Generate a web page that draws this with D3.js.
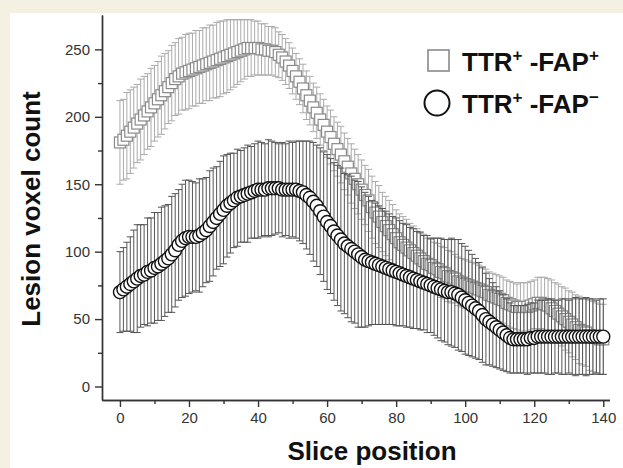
<!DOCTYPE html>
<meta charset="utf-8">
<style>
body {
  margin: 0;
  background: #f4f0e2;
  font-family: "Liberation Sans", Arial, Helvetica, sans-serif;
}
.axis path, .axis line {
  stroke: #333;
  stroke-width: 1.4;
}
.axis text {
  font-size: 15px;
  fill: #333;
}
.label {
  font-size: 26px;
  font-weight: bold;
  fill: #111;
}
.legend text {
  font-size: 26px;
  font-weight: bold;
  fill: #111;
}
</style>
<body>
<script src="https://cdn.jsdelivr.net/npm/d3@7"></script>
<script>

var width = 623,
    height = 468;

// slice positions 0..140
var slices = d3.range(0, 141);

// TTR+ -FAP+ (grey squares), mean and SD per slice
var fapPosMean = [
  181,183,186,189,192,195,198,201,204,207,210,
  213,216,219,222,225,228,230,232,233,234,
  235,236,237,238,239,240,241,242,243,244,
  245,246,247,248,249,250,251,251,251,251,
  250,250,249,249,248,246,244,241,238,234,
  230,226,221,216,212,207,203,198,194,189,
  185,180,176,172,167,163,158,154,150,146,
  142,138,133,129,126,122,119,116,113,110,
  107,105,103,101,99,97,95,93,91,90,
  88,87,85,84,82,81,80,78,77,76,
  75,74,73,72,71,70,68,67,66,65,
  64,62,61,60,59,59,59,59,60,61,
  62,62,61,60,58,56,54,52,50,48,
  46,44,42,41,40,38,37,36,35,35
];
var fapPosSd = [
  31,30,32,31,30,29,30,29,28,29,28,
  28,29,28,27,28,27,28,27,28,28,
  27,28,27,28,27,28,27,28,28,27,
  27,26,25,24,23,22,21,21,20,20,
  19,19,18,18,18,17,17,17,17,17,
  17,17,18,18,18,18,19,19,19,19,
  20,20,20,21,21,21,22,22,22,22,
  22,23,23,23,23,22,22,22,22,21,
  21,21,21,20,20,20,20,20,19,19,
  19,19,19,19,19,19,18,18,18,18,
  18,18,18,18,18,17,17,17,17,17,
  17,17,17,17,17,18,18,18,18,18,
  19,19,20,20,21,21,22,22,23,23,
  24,24,25,25,25,26,26,26,26,26
];

// TTR+ -FAP- (black circles), mean and SD per slice
var fapNegMean = [
  70,72,74,76,78,80,82,83,85,86,88,
  89,91,93,95,98,101,105,108,110,111,
  111,111,112,114,116,119,122,125,128,131,
  134,136,138,140,141,142,143,144,145,146,
  146,146,147,147,147,147,146,146,146,146,
  146,145,144,142,140,137,134,130,126,122,
  119,115,112,109,106,104,102,100,98,96,
  94,93,92,91,90,89,88,87,86,85,
  84,83,82,81,80,79,78,77,76,75,
  74,73,72,71,70,70,69,68,66,64,
  62,60,58,56,53,50,48,46,44,42,
  40,38,36,35,35,35,35,35,36,36,
  37,37,37,37,37,37,37,37,37,37,
  37,37,37,37,37,37,37,37,37,37
];
var fapNegSd = [
  30,31,33,35,38,40,38,37,40,39,41,
  40,42,41,40,43,42,41,42,43,42,
  41,40,42,40,39,41,40,38,39,40,
  38,37,35,36,34,35,36,34,35,36,
  35,34,36,35,34,33,35,34,36,35,
  36,37,38,40,42,44,45,47,48,50,
  50,51,52,53,52,53,54,53,54,52,
  50,48,46,45,44,43,42,41,40,40,
  39,38,38,37,37,36,36,35,36,35,
  36,37,38,38,39,40,40,41,40,40,
  39,38,37,36,35,34,32,31,30,29,
  28,27,26,25,25,25,25,26,26,26,
  27,27,27,28,28,27,27,28,28,27,
  28,29,28,28,29,28,28,27,28,28
];

var xMajor = [0, 20, 40, 60, 80, 100, 120, 140],
    xMinor = [10, 30, 50, 70, 90, 110, 130],
    yMajor = [0, 50, 100, 150, 200, 250],
    yMinor = [25, 75, 125, 175, 225];

var svg = d3.select("body").append("svg")
    .attr("width", width)
    .attr("height", height);

// white panel
svg.append("rect")
    .attr("x", 10)
    .attr("y", 13)
    .attr("width", width - 10)
    .attr("height", height - 13)
    .attr("fill", "#fff");

var x = d3.scaleLinear().domain([-5.2, 141.8]).range([102, 609.5]);
var y = d3.scaleLinear().domain([-10, 275.5]).range([400, 15]);

// axes
svg.append("g")
    .attr("class", "axis")
    .attr("transform", "translate(0,400)")
    .call(d3.axisBottom(x).tickValues(xMajor).tickSize(7).tickSizeOuter(0).tickPadding(5));
svg.append("g")
    .attr("class", "axis")
    .attr("transform", "translate(0,400)")
    .call(d3.axisBottom(x).tickValues(xMinor).tickSize(4).tickFormat("").tickSizeOuter(0));
svg.append("g")
    .attr("class", "axis")
    .attr("transform", "translate(102,0)")
    .call(d3.axisLeft(y).tickValues(yMajor).tickSize(7).tickSizeOuter(0).tickPadding(5));
svg.append("g")
    .attr("class", "axis")
    .attr("transform", "translate(102,0)")
    .call(d3.axisLeft(y).tickValues(yMinor).tickSize(4).tickFormat("").tickSizeOuter(0));

svg.append("text")
    .attr("class", "label")
    .attr("text-anchor", "middle")
    .attr("x", 372)
    .attr("y", 460)
    .text("Slice position");

svg.append("text")
    .attr("class", "label")
    .attr("text-anchor", "middle")
    .attr("transform", "translate(40,209) rotate(-90)")
    .text("Lesion voxel count");

function errorBars(mean, sd, color, cls) {
  var g = svg.append("g").attr("class", cls);
  var bars = g.selectAll("g")
      .data(slices)
    .enter().append("g")
      .attr("stroke", color)
      .attr("stroke-width", 1);
  bars.append("line")
      .attr("x1", function(d) { return x(d); })
      .attr("x2", function(d) { return x(d); })
      .attr("y1", function(d) { return y(mean[d] + sd[d]); })
      .attr("y2", function(d) { return y(mean[d] - sd[d]); });
  bars.append("line")
      .attr("x1", function(d) { return x(d) - 3.5; })
      .attr("x2", function(d) { return x(d) + 3.5; })
      .attr("y1", function(d) { return y(mean[d] + sd[d]); })
      .attr("y2", function(d) { return y(mean[d] + sd[d]); });
  bars.append("line")
      .attr("x1", function(d) { return x(d) - 3.5; })
      .attr("x2", function(d) { return x(d) + 3.5; })
      .attr("y1", function(d) { return y(mean[d] - sd[d]); })
      .attr("y2", function(d) { return y(mean[d] - sd[d]); });
}

// grey series
errorBars(fapPosMean, fapPosSd, "#aaa", "bars-pos");
svg.append("g").selectAll("rect")
    .data(slices)
  .enter().append("rect")
    .attr("x", function(d) { return x(d) - 5.5; })
    .attr("y", function(d) { return y(fapPosMean[d]) - 5.5; })
    .attr("width", 11)
    .attr("height", 11)
    .attr("fill", "#fff")
    .attr("stroke", "#8a8a8a")
    .attr("stroke-width", 1.2);

// black series
errorBars(fapNegMean, fapNegSd, "#555", "bars-neg");
svg.append("g").selectAll("circle")
    .data(slices)
  .enter().append("circle")
    .attr("cx", function(d) { return x(d); })
    .attr("cy", function(d) { return y(fapNegMean[d]); })
    .attr("r", 6.5)
    .attr("fill", "#fff")
    .attr("stroke", "#111")
    .attr("stroke-width", 1.4);

// legend
var legend = svg.append("g").attr("class", "legend");
legend.append("rect")
    .attr("x", 428).attr("y", 50)
    .attr("width", 21).attr("height", 21)
    .attr("fill", "#fff")
    .attr("stroke", "#8a8a8a")
    .attr("stroke-width", 1.6);
legend.append("circle")
    .attr("cx", 437).attr("cy", 103)
    .attr("r", 12.5)
    .attr("fill", "#fff")
    .attr("stroke", "#111")
    .attr("stroke-width", 2);

var labels = [["+", "+"], ["+", "\u2212"]];
labels.forEach(function(sup, i) {
  var t = legend.append("text")
      .attr("x", 462)
      .attr("y", 71 + i * 42);
  t.append("tspan").text("TTR");
  t.append("tspan").attr("dy", -10).attr("font-size", 17).text(sup[0]);
  t.append("tspan").attr("dy", 10).text(" -FAP");
  t.append("tspan").attr("dy", -10).attr("font-size", 17).text(sup[1]);
});

</script>
